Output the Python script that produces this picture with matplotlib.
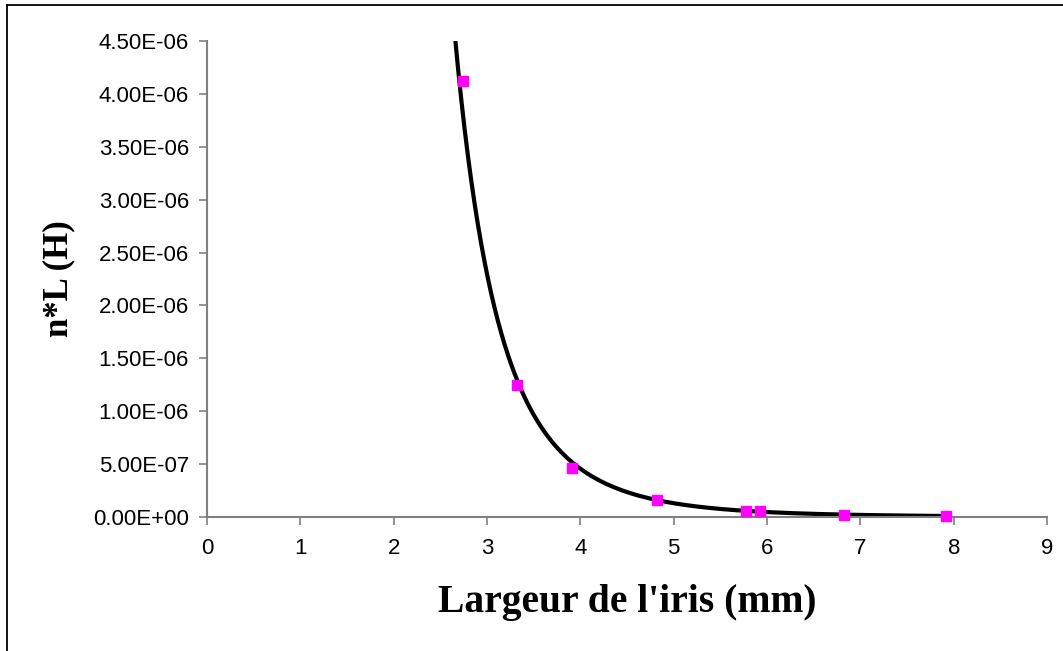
import numpy as np
import matplotlib.pyplot as plt
from matplotlib.lines import Line2D

# Measured points: iris width (mm) vs n*L (H)
largeur = [2.74, 3.32, 3.91, 4.82, 5.78, 5.92, 6.82, 7.92]
nL = [4.12e-6, 1.25e-6, 4.6e-7, 1.6e-7, 6.0e-8, 6.0e-8, 2.0e-8, 1.0e-8]

x_ticks = [0, 1, 2, 3, 4, 5, 6, 7, 8, 9]
y_ticks = [0, 5e-7, 1e-6, 1.5e-6, 2e-6, 2.5e-6, 3e-6, 3.5e-6, 4e-6, 4.5e-6]

AXIS_GREY = "#808080"

fig = plt.figure(figsize=(10.63, 6.51), dpi=100)
ax = fig.add_axes([0.1947, 0.2058, 0.7903, 0.7312])

# power-law trendline (least squares on log-log, like a spreadsheet trendline)
b, ln_a = np.polyfit(np.log(largeur), np.log(nL), 1)
xf = np.linspace(2.6, max(largeur), 300)
ax.plot(xf, np.exp(ln_a) * xf ** b, color="black", lw=3, zorder=2)

ax.plot(largeur, nL, ls="none", marker="s", ms=7.5, color="#FF00FF",
        mec="#FF00FF", zorder=3, clip_on=False)

ax.set_xlim(0, 9)
ax.set_ylim(0, 4.5e-6)
ax.set_xticks(x_ticks)
ax.set_xticklabels([str(t) for t in x_ticks])
ax.set_yticks(y_ticks)
ax.set_yticklabels([f"{v:.2E}" for v in y_ticks])

for side in ("top", "right"):
    ax.spines[side].set_visible(False)
for side in ("left", "bottom"):
    ax.spines[side].set_color(AXIS_GREY)
    ax.spines[side].set_linewidth(1.5)

ax.tick_params(axis="both", direction="out", length=6, width=1.2,
               color=AXIS_GREY, labelsize=16, pad=7)
ax.tick_params(axis="x", pad=9)
for lab in ax.get_xticklabels() + ax.get_yticklabels():
    lab.set_family("Liberation Sans")

ax.set_xlabel("Largeur de l'iris (mm)", family="Liberation Serif",
              fontweight="bold", fontsize=28.5, labelpad=18)
ax.set_ylabel("n*L (H)", family="Liberation Serif", fontweight="bold",
              fontsize=25, labelpad=13)

# outer frame (only top and left edges fall inside the canvas)
fig.add_artist(Line2D([7 / 1063, 1.0], [1 - 5 / 651, 1 - 5 / 651],
                      transform=fig.transFigure, color="black", lw=1.3))
fig.add_artist(Line2D([7 / 1063, 7 / 1063], [0, 1 - 5 / 651],
                      transform=fig.transFigure, color="black", lw=1.3))

fig.savefig("out.png", dpi=100, facecolor="white")
